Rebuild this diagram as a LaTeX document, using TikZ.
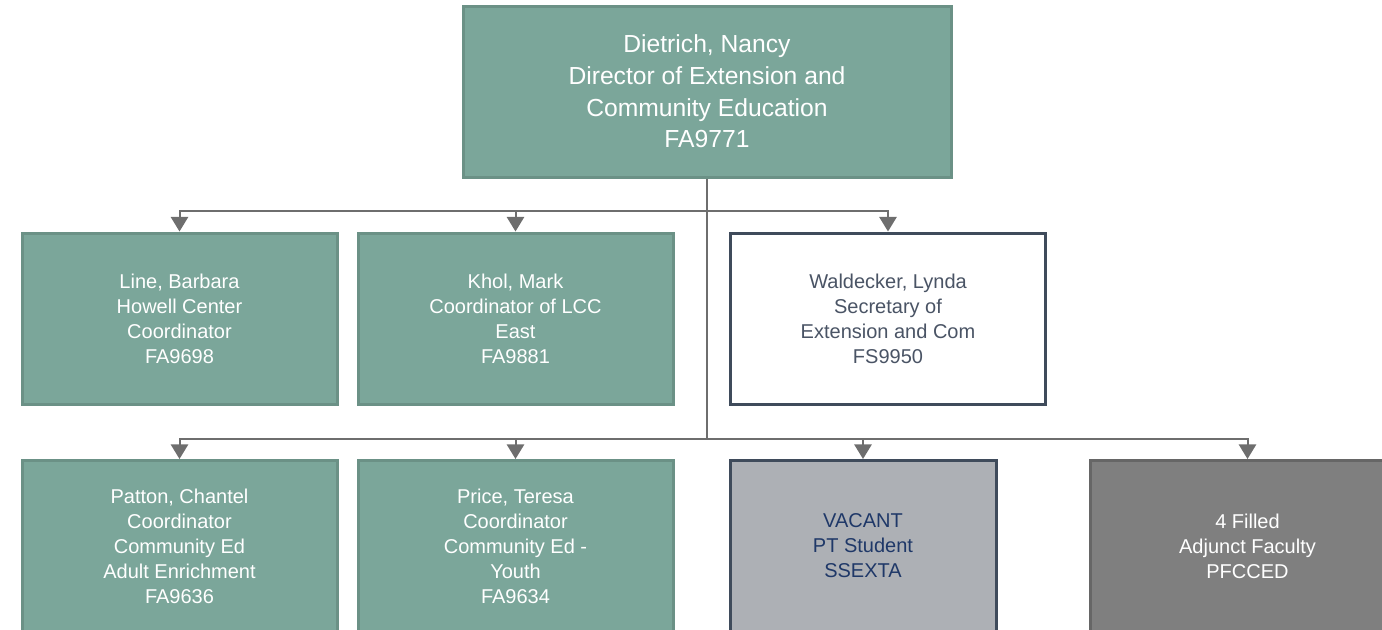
\documentclass[tikz,border=0pt]{standalone}
\usepackage{fontspec}
\setmainfont{Liberation Sans}
\usepackage{xcolor}
\usetikzlibrary{arrows.meta}
\definecolor{staffFill}{HTML}{7BA69A}
\definecolor{staffEdge}{HTML}{6B9186}
\definecolor{slateEdge}{HTML}{3F4B5B}
\definecolor{slateText}{HTML}{4A5465}
\definecolor{vacantFill}{HTML}{ADB0B5}
\definecolor{vacantText}{HTML}{1F3868}
\definecolor{adjunctFill}{HTML}{7F7F7F}
\definecolor{adjunctEdge}{HTML}{666666}
\definecolor{linkGray}{HTML}{6E6E6E}

\begin{document}
\begin{tikzpicture}[x=0.75pt,y=0.75pt,yscale=-1,xscale=1,
  posbox/.style={draw, line width=2.25pt, inner sep=0pt, align=center,
    minimum width=236.25pt, minimum height=128.25pt,
    font=\fontsize{15}{18.75}\selectfont},
  staff/.style={posbox, fill=staffFill, draw=staffEdge, text=white},
  office/.style={posbox, fill=white, draw=slateEdge, text=slateText},
  vacant/.style={posbox, fill=vacantFill, draw=slateEdge, text=vacantText, minimum width=199.5pt},
  adjunct/.style={posbox, fill=adjunctFill, draw=adjunctEdge, text=white},
  link/.style={draw=linkGray, line width=1.5pt},
  linkarrow/.style={link, -{Triangle[width=13pt,length=11pt]}}]
%set diagram area: 1382 x 629
\clip (0,0) rectangle (1382,629);
\useasboundingbox (0,0) rectangle (1382,629);

% Director
\node [staff, minimum width=366pt, font=\fontsize{18.5}{23.75}\selectfont] (director) at (707,91.5)
  {Dietrich, Nancy\\Director of Extension and\\Community Education\\FA9771};

% First row
\node [staff] (line) at (179.5,318.5) {Line, Barbara\\Howell Center\\Coordinator\\FA9698};
\node [staff] (khol) at (515.5,318.5) {Khol, Mark\\Coordinator of LCC\\East\\FA9881};
\node [office] (waldecker) at (888,318.5) {Waldecker, Lynda\\Secretary of\\Extension and Com\\FS9950};

% Second row
\node [staff] (patton) at (179.5,546) {Patton, Chantel\\Coordinator\\Community Ed\\Adult Enrichment\\FA9636};
\node [staff] (price) at (515.5,546) {Price, Teresa\\Coordinator\\Community Ed -\\Youth\\FA9634};
\node [vacant] (vacant) at (863,546) {VACANT\\PT Student\\SSEXTA};
\node [adjunct] (adjunct) at (1247.5,546) {4 Filled\\Adjunct Faculty\\PFCCED};

% Reporting lines
\coordinate (branchA) at (707,211);
\coordinate (branchB) at (707,439);
\draw [link] (director.south) -- (branchB);
\draw [linkarrow] (branchA) -| (line.north);
\draw [linkarrow] (branchA) -| (khol.north);
\draw [linkarrow] (branchA) -| (waldecker.north);
\draw [linkarrow] (branchB) -| (patton.north);
\draw [linkarrow] (branchB) -| (price.north);
\draw [linkarrow] (branchB) -| (vacant.north);
\draw [linkarrow] (branchB) -| (adjunct.north);

\end{tikzpicture}
\end{document}
